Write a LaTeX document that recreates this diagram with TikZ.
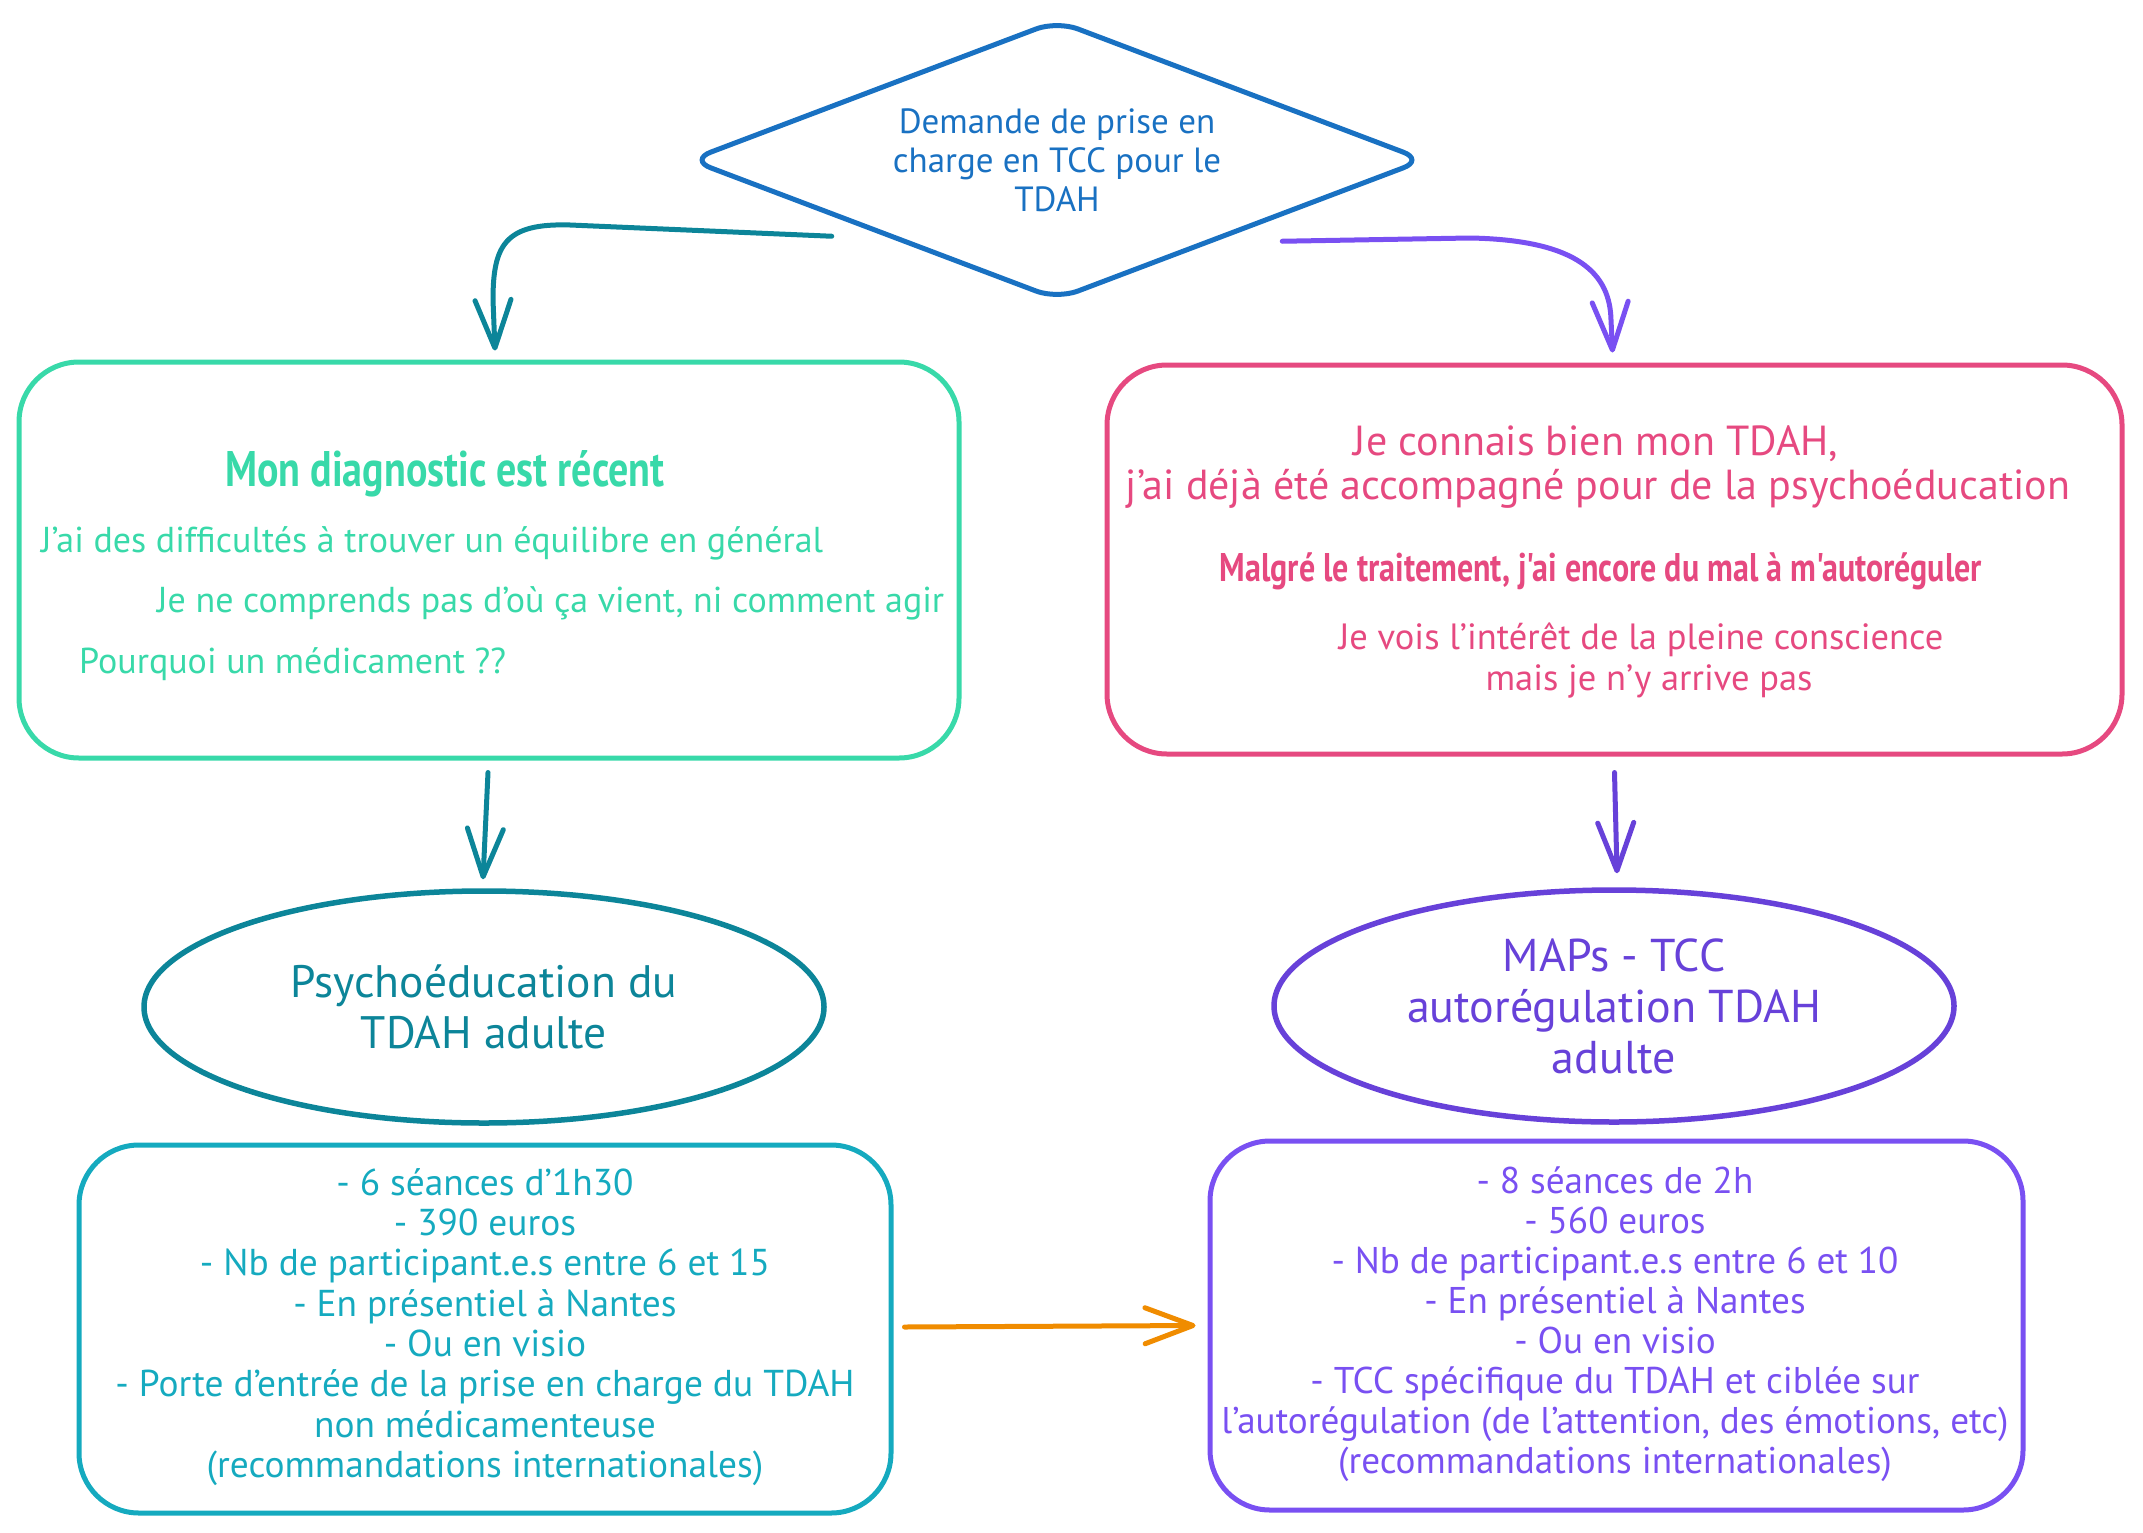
\documentclass[tikz,border=0pt]{standalone}
\usepackage{fontspec}
\setmainfont{PT Sans}
\newfontfamily\headfont{PT Sans}[FakeStretch=0.8]
\usetikzlibrary{arrows.meta,shapes.geometric,calc}
\definecolor{cblue}{HTML}{1971C2}
\definecolor{cteal}{HTML}{0C8599}
\definecolor{cgreen}{HTML}{38D9A9}
\definecolor{cpink}{HTML}{E64980}
\definecolor{cviolet}{HTML}{7950F2}
\definecolor{cgrape}{HTML}{6741D9}
\definecolor{ccyan}{HTML}{15AABF}
\definecolor{corange}{HTML}{F08C00}
\newcommand\myfs[2]{\fontsize{#1}{#2}\selectfont}
\begin{document}
\begin{tikzpicture}[x=1pt,y=-1pt,
  box/.style={draw=#1, line width=5pt, rounded corners=60pt, rectangle, inner sep=0pt},
  oval/.style={draw=#1, text=#1, line width=5.5pt, ellipse, inner sep=0pt, align=center, minimum width=680pt, minimum height=232pt},
  txt/.style={inner sep=0pt, text=#1},
  arr/.style={line width=5pt, line cap=round, line join=round, -{Straight Barb[length=48pt, width=36pt, line cap=round, line join=round]}}
]
\useasboundingbox (0,0) rectangle (2143,1533);
% decision
\node[draw=cblue, text=cblue, line width=5pt, diamond, aspect=2.7, rounded corners=22pt,
      minimum width=736pt, minimum height=280pt, inner sep=0pt, align=center,
      font=\myfs{35}{39}] (d) at (1057,160) {Demande de prise en\\charge en TCC pour le\\TDAH};
% top boxes
\node[box=cgreen, minimum width=940pt, minimum height=396pt] (gbox) at (489,560) {};
\node[box=cpink, minimum width=1015pt, minimum height=389pt] (pbox) at (1614.5,559.5) {};
% green box texts
\node[txt=cgreen, font=\headfont\bfseries\myfs{50}{56}] (g0) at (445,474) {Mon diagnostic est récent};
\node[txt=cgreen, anchor=west, font=\myfs{36}{40}] (g1) at (41,543) {J'ai des difficultés à trouver un équilibre en général};
\node[txt=cgreen, anchor=west, font=\myfs{36}{40}] (g2) at (157,603) {Je ne comprends pas d'où ça vient, ni comment agir};
\node[txt=cgreen, anchor=west, font=\myfs{36}{40}] (g3) at (79,664) {Pourquoi un médicament ??};
% pink box texts
\node[txt=cpink, font=\myfs{42}{45}] (p1) at (1596,444) {Je connais bien mon TDAH,};
\node[txt=cpink, font=\myfs{42}{45}] (p2) at (1598,489) {j'ai déjà été accompagné pour de la psychoéducation};
\node[txt=cpink, font=\headfont\bfseries\myfs{40}{44}] (p3) at (1601,571) {Malgré le traitement, j'ai encore du mal à m'autoréguler};
\node[txt=cpink, font=\myfs{36.5}{41}] (p4) at (1641,640) {Je vois l'intérêt de la pleine conscience};
\node[txt=cpink, font=\myfs{36.5}{41}] (p5) at (1649,681) {mais je n'y arrive pas};
% ellipses
\node[oval=cteal, font=\myfs{45.5}{51}] (le) at (484,1007) {Psychoéducation du\\TDAH adulte};
\node[oval=cgrape, font=\myfs{46}{51}] (re) at (1614,1006) {MAPs - TCC\\autorégulation TDAH\\adulte};
% bottom boxes
\node[box=ccyan, minimum width=812pt, minimum height=368pt] (cbox) at (485,1329) {};
\node[box=cviolet, minimum width=813pt, minimum height=369pt] (vbox) at (1616.5,1325.5) {};
\node[txt=ccyan, align=center, font=\myfs{37.4}{40.3}] (ct) at (485,1327) {- 6 séances d'1h30\\- 390 euros\\- Nb de participant.e.s entre 6 et 15\\- En présentiel à Nantes\\- Ou en visio\\- Porte d'entrée de la prise en charge du TDAH\\non médicamenteuse\\(recommandations internationales)};
\node[txt=cviolet, align=center, font=\myfs{37.2}{40}] (vt) at (1615,1324) {- 8 séances de 2h\\- 560 euros\\- Nb de participant.e.s entre 6 et 10\\- En présentiel à Nantes\\- Ou en visio\\- TCC spécifique du TDAH et ciblée sur\\l'autorégulation (de l'attention, des émotions, etc)\\(recommandations internationales)};
% connector end points
\coordinate (a1s) at ([shift={(-40,5)}]d.south west);
\coordinate (a1e) at ([shift={(6,-9)}]gbox.north);
\coordinate (a2s) at ([shift={(40,10)}]d.south east);
\coordinate (a2e) at ([shift={(-2,-10)}]pbox.north);
\coordinate (a3s) at ([shift={(-1,12)}]gbox.south);
\coordinate (a3e) at ([shift={(-1,-9)}]le.north);
\coordinate (a4s) at ([shift={(0,16)}]pbox.south);
\coordinate (a4e) at ([shift={(3,-14)}]re.north);
\coordinate (a5s) at ([shift={(11,-2)}]cbox.east);
\coordinate (a5e) at ([shift={(-12,0)}]vbox.west);
% connectors
\draw[arr, cteal] (a1s) -- (570,225) .. controls (505,223) and (493,245) .. (493,300) -- (a1e);
\draw[arr, cviolet] (a2s) -- (1470,238) .. controls (1580,240) and (1610,275) .. (1611,320) -- (a2e);
\draw[arr, cteal] (a3s) -- (a3e);
\draw[arr, cgrape] (a4s) -- (a4e);
\draw[arr, corange] (a5s) -- (a5e);
\end{tikzpicture}
\end{document}
